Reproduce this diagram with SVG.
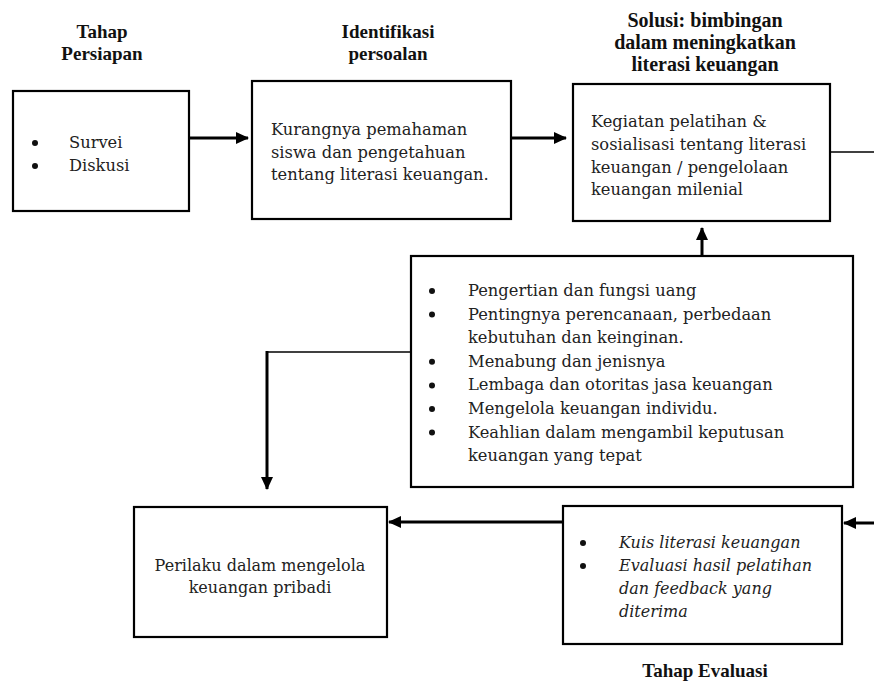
<svg xmlns="http://www.w3.org/2000/svg" width="874" height="682" viewBox="0 0 874 682">
<style>
.box{fill:#fff;stroke:#000;stroke-width:2.2}
.hd{font-family:"Liberation Serif","Times New Roman",serif;font-weight:bold;font-size:19px;fill:#111;text-anchor:middle}
.hd2{font-size:20px}
.tx{font-family:"DejaVu Serif",serif;font-size:16.3px;fill:#222}
.sm{font-size:16px}
.it{font-style:italic}
.ctr{text-anchor:middle}
.thick{stroke:#000;stroke-width:3;fill:none}
.thin{stroke:#000;stroke-width:1.3;fill:none}
.bul{fill:#111}
</style>
<defs>
<marker id="ah" viewBox="0 0 13 12" refX="12" refY="6" markerWidth="13" markerHeight="12" markerUnits="userSpaceOnUse" orient="auto">
<path d="M0,0 L13,6 L0,12 Z" fill="#000"/>
</marker>
</defs>
<g id="headers">
<text class="hd" x="102" y="38">Tahap</text>
<text class="hd" x="102" y="60">Persiapan</text>
<text class="hd" x="388" y="38">Identifikasi</text>
<text class="hd" x="388" y="60">persoalan</text>
<text class="hd hd2" x="705" y="27">Solusi: bimbingan</text>
<text class="hd hd2" x="705" y="49">dalam meningkatkan</text>
<text class="hd hd2" x="705" y="71">literasi keuangan</text>
<text class="hd" x="705" y="677">Tahap Evaluasi</text>
</g>
<g id="connectors">
<line class="thick" x1="189" y1="138" x2="248" y2="138" marker-end="url(#ah)"/>
<line class="thick" x1="511" y1="138" x2="566" y2="138" marker-end="url(#ah)"/>
<line class="thin" x1="830" y1="152" x2="874" y2="152"/>
<line class="thick" x1="702" y1="256" x2="702" y2="228" marker-end="url(#ah)"/>
<line class="thin" x1="411" y1="352" x2="266" y2="352"/>
<line class="thick" x1="267" y1="351" x2="267" y2="489" marker-end="url(#ah)"/>
<line class="thick" x1="874" y1="523" x2="844" y2="523" marker-end="url(#ah)"/>
<line class="thick" x1="563" y1="522" x2="389" y2="522" marker-end="url(#ah)"/>
</g>
<g id="persiapan">
<rect class="box" x="13" y="91" width="176" height="120"/>
<circle class="bul" cx="35" cy="143" r="3"/>
<circle class="bul" cx="35" cy="166" r="3"/>
<text class="tx" x="69" y="148">Survei</text>
<text class="tx" x="69" y="171">Diskusi</text>
</g>
<g id="identifikasi">
<rect class="box" x="252" y="81" width="259" height="138"/>
<text class="tx" x="271" y="135">Kurangnya pemahaman</text>
<text class="tx" x="271" y="158">siswa dan pengetahuan</text>
<text class="tx" x="271" y="180">tentang literasi keuangan.</text>
</g>
<g id="solusi">
<rect class="box" x="573" y="84" width="257" height="137"/>
<text class="tx" x="591" y="127">Kegiatan pelatihan &amp;</text>
<text class="tx" x="591" y="150">sosialisasi tentang literasi</text>
<text class="tx" x="591" y="173">keuangan / pengelolaan</text>
<text class="tx" x="591" y="195">keuangan milenial</text>
</g>
<g id="materi">
<rect class="box" x="411" y="256" width="442" height="231"/>
<circle class="bul" cx="432" cy="291" r="3"/>
<circle class="bul" cx="432" cy="314.6" r="3"/>
<circle class="bul" cx="432" cy="361.8" r="3"/>
<circle class="bul" cx="432" cy="385.4" r="3"/>
<circle class="bul" cx="432" cy="409" r="3"/>
<circle class="bul" cx="432" cy="432.6" r="3"/>
<text class="tx" x="468" y="296">Pengertian dan fungsi uang</text>
<text class="tx" x="468" y="319.6">Pentingnya perencanaan, perbedaan</text>
<text class="tx" x="468" y="343.2">kebutuhan dan keinginan.</text>
<text class="tx" x="468" y="366.8">Menabung dan jenisnya</text>
<text class="tx" x="468" y="390.4">Lembaga dan otoritas jasa keuangan</text>
<text class="tx" x="468" y="414">Mengelola keuangan individu.</text>
<text class="tx" x="468" y="437.6">Keahlian dalam mengambil keputusan</text>
<text class="tx" x="468" y="461.2">keuangan yang tepat</text>
</g>
<g id="perilaku">
<rect class="box" x="134" y="507" width="253" height="130"/>
<text class="tx sm ctr" x="260" y="571">Perilaku dalam mengelola</text>
<text class="tx sm ctr" x="260" y="593">keuangan pribadi</text>
</g>
<g id="evaluasi">
<rect class="box" x="563" y="506" width="279" height="138"/>
<circle class="bul" cx="583" cy="543" r="3"/>
<circle class="bul" cx="583" cy="566" r="3"/>
<text class="tx sm it" x="619" y="548">Kuis literasi keuangan</text>
<text class="tx sm it" x="619" y="571">Evaluasi hasil pelatihan</text>
<text class="tx sm it" x="619" y="594">dan feedback yang</text>
<text class="tx sm it" x="619" y="617">diterima</text>
</g>
</svg>
